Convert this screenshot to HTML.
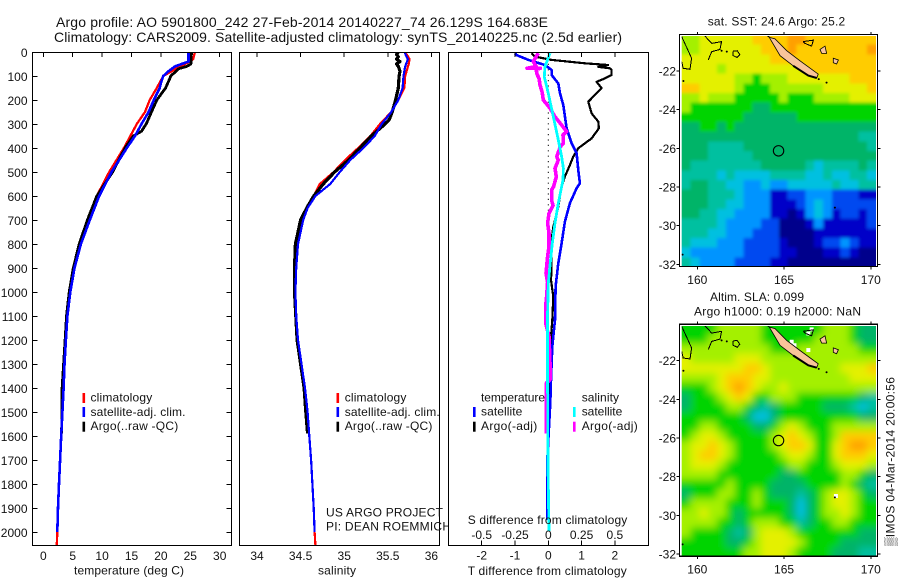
<!DOCTYPE html>
<html lang="en">
<head>
<meta charset="utf-8">
<title>Argo profile 5901800_242</title>
<style>
html,body{margin:0;padding:0;background:#fff;}
svg{display:block;font-family:"Liberation Sans","DejaVu Sans",sans-serif;font-size:12px;fill:#000;}
text{fill:#111;}
.t14{font-size:14px;}
</style>
</head>
<body>
<svg id="chart" xmlns="http://www.w3.org/2000/svg" width="900" height="580" viewBox="0 0 900 580">
  <defs>
    <clipPath id="clip-temp"><rect x="32.5" y="52.5" width="199" height="493"/></clipPath>
    <clipPath id="clip-sal"><rect x="239.5" y="52.5" width="200" height="493"/></clipPath>
    <clipPath id="clip-diff"><rect x="448.5" y="52.5" width="200" height="493"/></clipPath>
    <clipPath id="clip-map1"><rect x="681.7" y="36" width="194.3" height="230"/></clipPath>
    <clipPath id="clip-map2"><rect x="681.7" y="326" width="194.3" height="230"/></clipPath>
    <filter id="blur-sla" x="-10%" y="-10%" width="120%" height="120%"><feGaussianBlur stdDeviation="4"/></filter>
    <filter id="blur-sst" x="-10%" y="-10%" width="120%" height="120%"><feGaussianBlur stdDeviation="1.6"/></filter>
  </defs>
  <rect x="0" y="0" width="900" height="580" fill="#fff"/>

  <text class="t14" x="56" y="27" textLength="492" lengthAdjust="spacing">Argo profile: AO 5901800_242 27-Feb-2014 20140227_74 26.129S 164.683E</text>
  <text class="t14" x="54" y="42" textLength="568" lengthAdjust="spacing">Climatology: CARS2009. Satellite-adjusted climatology: synTS_20140225.nc (2.5d earlier)</text>

  <g id="temp-panel"></g>
  <g id="sal-panel"></g>

  <text x="326" y="516.7" textLength="117" lengthAdjust="spacing">US ARGO PROJECT</text>
  <text x="326" y="530.7" textLength="125" lengthAdjust="spacing">PI: DEAN ROEMMICH</text>

  <g id="diff-panel"></g>
  <g id="map1"></g>
  <g id="map2"></g>

  <text x="707.7" y="25.7" textLength="137.5" lengthAdjust="spacing">sat. SST: 24.6 Argo: 25.2</text>
  <text x="710" y="301" textLength="94" lengthAdjust="spacing">Altim. SLA: 0.099</text>
  <text x="694" y="315.7" textLength="167" lengthAdjust="spacing">Argo h1000: 0.19 h2000: NaN</text>
  <text transform="translate(894.5,546) rotate(-90)" textLength="169" lengthAdjust="spacing">▒IMOS 04-Mar-2014 20:00:56</text>
</svg>
<script>
// ---------- profile data (depth in dbar) ----------
const depthTicks = [0,100,200,300,400,500,600,700,800,900,1000,1100,1200,1300,1400,1500,1600,1700,1800,1900,2000];
const tempTicks = [0,5,10,15,20,25,30];
const salTicks = [34,34.5,35,35.5,36];
const salTickLabels = ['34','34.5','35','35.5','36'];
const diffTTicks = [-2,-1,0,1,2];
const diffTTickLabels = ['-2','-1','0','1','2'];
const diffSTicks = [-0.5,-0.25,0,0.25,0.5];
const diffSTickLabels = ['-0.5','-0.25','0','0.25','0.5'];

const tempClimDepth = [0,30,40,60,100,150,200,250,300,400,500,600,700,800,900,1000,1100,1200,1300,1400,1500,1600,1700,1800,1900,2000,2054];
const tempClim = [25.8,25.5,24.95,23.3,20.4,19.3,18.1,17.3,15.9,13.7,11.2,9.1,7.6,6.2,5.2,4.5,4.0,3.8,3.5,3.4,3.2,3.07,2.84,2.67,2.5,2.38,2.3];
const tempArgoDepth = [0,50,60,70,100,150,200,250,300,330,350,400,500,600,700,800,900,1000,1100,1200,1300,1400,1500,1590];
const tempArgo = [25.2,25.1,24.4,23,21.7,20.8,19.3,18.4,17.5,16.7,15.3,13.9,11.8,9.1,7.5,6.1,5.1,4.4,3.95,3.7,3.45,3.2,3.2,3.1];
const tempSatDepth = [0,40,50,60,80,100,130,150,200,250,300,350,400,500,600,700,800,900,1000,1100,1200,1300,1400,1500,1600,1700,1800,1900,2000];
const tempSat = [24.7,24.7,23.5,22.4,21.3,20.4,20,19.8,18.8,17.9,16.7,15.6,14.2,11.6,9.5,7.9,6.4,5.3,4.6,4.1,3.85,3.6,3.45,3.25,3.05,2.85,2.67,2.5,2.38];

const salClimDepth = [0,30,50,100,150,200,250,300,350,400,450,500,550,600,650,700,750,800,900,1000,1100,1200,1300,1400,1500,1600,1700,1800,1900,2000,2054];
const salClim = [35.70,35.75,35.74,35.70,35.69,35.62,35.54,35.41,35.30,35.16,35.01,34.88,34.72,34.65,34.57,34.51,34.47,34.45,34.43,34.43,34.45,34.47,34.51,34.55,34.57,34.60,34.62,34.635,34.65,34.66,34.67];
const salArgoDepth = [0,10,20,30,40,50,60,80,100,150,200,250,280,300,350,400,450,500,550,600,650,700,750,800,900,1000,1100,1200,1300,1400,1500,1590];
const salArgo = [35.62,35.60,35.62,35.60,35.64,35.60,35.62,35.64,35.63,35.62,35.59,35.55,35.52,35.47,35.31,35.18,35.05,34.89,34.76,34.65,34.57,34.5,34.47,34.44,34.43,34.43,34.445,34.46,34.5,34.54,34.56,34.58];
const salSatDepth = [0,30,60,100,150,200,250,300,350,400,450,500,550,600,650,700,750,800,900,1000,1100,1200,1300,1400,1500,1600,1700,1800,1900,2000];
const salSat = [35.69,35.73,35.70,35.68,35.67,35.62,35.54,35.43,35.35,35.22,35.07,34.95,34.84,34.67,34.58,34.53,34.50,34.47,34.45,34.44,34.45,34.47,34.51,34.55,34.58,34.6,34.62,34.635,34.65,34.66];

const diffTArgoDepth = [5,19,33,47,54,62,68,75,96,110,124,151,207,256,290,318,360,401,436,471,519,561,644,728,783,894,950,1019,1116,1186,1227,1366,1520];
const diffTArgo = [-0.5,-0.4,0.1,1.1,1.8,1.5,1.85,1.9,1.9,1.7,1.45,1.6,1.2,1.3,1.5,1.52,1.3,0.9,0.75,0.65,0.5,0.4,0.3,0.15,0.1,0.1,0.08,0.15,0.12,0.08,0.05,0.05,0.05];
const diffTSatDepth = [5,13,33,54,75,96,131,172,221,318,380,422,492,547,568,630,707,797,880,977,1116,1227,1366,1460,1700,1950];
const diffTSat = [-1.0,-0.95,-0.6,-0.1,0.1,0.1,0.3,0.35,0.45,0.55,0.7,0.85,0.9,0.95,0.85,0.65,0.5,0.4,0.3,0.22,0.2,0.12,0.08,0.06,-0.03,-0.03];
const diffSSatDepth = [5,61,103,172,269,366,436,485,533,630,713,797,894,964,1089,1366,1700,1995];
const diffSSat = [0.0125,-0.025,-0.03,0,0.0375,0.075,0.1,0.113,0.11,0.075,0.05,0.03,0.012,0,-0.005,-0.005,-0.003,0.005];
const diffSArgoDepth = [5,40,60,68,68,72,89,110,137,170,200,234,270,304,332,345,380,395,436,450,485,520,561,575,617,640,672,713,755,811,852,922,960,1019,1060,1130,1186,1297,1366,1380,1590];
const diffSArgo = [-0.075,-0.113,-0.09,-0.16,-0.06,-0.09,-0.087,-0.07,-0.0625,-0.045,-0.0375,0.0125,0.05,0.1,0.138,0.11,0.113,0.09,0.063,0.075,0.05,0.06,0.04,0.025,0.025,0.035,0.005,-0.005,0.005,0.005,-0.005,-0.0175,-0.005,-0.0125,-0.02,-0.02,0.005,0.0125,0.0125,-0.015,-0.015];

// ---------- map data: colour level per 0.5 degree cell, north to south ----------
const sstLevels = [
[8,8,9,9,9,9,9,9,10,10,10,10,11,11,10,10,10,10,10,10,10,10],
[8,8,9,9,9,9,9,9,9,10,10,10,11,10,10,10,10,10,10,10,10,11],
[9,9,9,9,9,9,9,9,9,9,10,10,10,10,10,10,10,10,10,10,10,10],
[9,9,9,9,8,9,9,9,9,9,9,9,9,9,10,10,10,10,10,10,10,10],
[9,9,9,9,9,9,8,8,7,8,8,8,9,9,9,9,9,9,9,10,10,10],
[10,10,9,9,9,9,8,7,7,7,8,8,8,8,8,8,9,9,9,9,9,10],
[8,8,9,8,8,8,7,7,7,7,7,8,7,7,7,8,8,8,8,9,9,9],
[8,7,7,7,7,7,7,7,6,6,7,7,7,7,7,7,7,7,7,7,7,7],
[7,7,7,7,7,7,7,6,6,6,6,6,6,7,7,7,7,7,7,7,7,7],
[6,6,7,7,6,7,6,6,6,6,6,6,6,6,6,6,6,6,6,6,6,6],
[6,6,6,6,6,6,6,6,6,6,6,6,6,6,6,6,6,6,6,6,5,5],
[6,6,6,5,5,5,5,6,6,6,6,6,6,6,6,6,6,6,6,6,6,5],
[6,6,6,5,5,5,5,5,6,6,6,6,6,6,6,6,6,6,6,6,6,6],
[6,5,5,5,5,5,5,5,5,6,6,6,6,6,5,4,5,5,5,5,6,5],
[5,5,5,5,4,5,4,4,4,4,5,5,5,5,4,4,5,4,4,5,5,4],
[5,6,6,5,5,4,4,3,3,4,3,3,4,4,4,4,4,5,4,4,5,5],
[6,6,6,5,5,5,4,3,3,3,1,1,2,2,3,3,3,2,2,2,1,1],
[6,6,6,5,5,4,4,3,3,3,1,1,1,2,3,4,3,2,2,2,2,2],
[6,6,5,5,4,4,3,3,3,3,1,1,0,1,3,4,3,1,2,2,1,2],
[5,5,5,5,4,3,3,3,3,2,2,0,0,0,1,3,1,1,1,1,1,2],
[5,5,5,4,4,3,3,3,2,2,2,0,0,0,0,1,1,1,1,1,1,1],
[5,4,4,4,3,3,3,2,2,2,2,1,0,0,0,1,2,2,3,2,1,1],
[4,3,3,3,3,3,3,2,2,2,2,1,1,0,0,0,1,1,2,1,0,0],
[5,4,3,3,3,3,2,2,2,2,1,1,0,0,0,0,0,0,0,0,0,0]
];
const slaLevels = [
[7,7,7,7,8,8,8,8,8,7,7,7,7,7,7,7,8,8,8,7,6,6],
[7,7,7,8,8,8,8,8,8,7,7,7,7,7,7,8,8,8,8,7,6,6],
[8,8,8,8,8,8,8,8,8,8,7,7,7,8,8,8,8,8,8,8,7,7],
[9,8,8,8,8,8,9,9,9,8,8,8,8,8,8,8,8,8,8,8,8,8],
[9,9,9,9,9,9,9,10,10,9,8,8,8,8,8,8,8,8,9,9,9,10],
[8,8,8,8,9,10,10,10,9,9,8,8,8,8,8,8,8,8,8,9,9,9],
[7,7,7,8,9,10,11,10,9,8,8,9,8,8,8,8,8,8,8,8,8,8],
[6,7,7,7,8,9,10,9,7,7,8,8,8,7,7,7,7,7,7,7,6,5],
[6,7,7,7,7,8,8,7,6,5,6,7,7,7,7,7,6,6,6,5,4,5],
[7,7,7,7,7,7,7,6,4,4,6,7,7,7,7,7,7,7,7,7,6,6],
[7,7,8,8,7,7,7,7,6,6,7,8,9,8,7,7,7,8,8,8,8,8],
[7,8,9,9,8,7,7,7,7,7,8,9,10,9,8,7,7,8,10,10,10,10],
[8,9,9,10,9,8,7,7,7,7,8,9,10,10,9,7,7,9,10,11,11,10],
[8,9,10,10,9,8,7,7,7,7,7,8,9,9,8,7,7,9,10,10,10,9],
[8,9,9,9,8,7,7,7,7,7,7,7,8,8,7,7,7,8,9,9,9,8],
[8,8,8,8,7,7,7,7,7,7,7,6,6,7,7,7,7,7,8,8,7,6],
[7,7,7,7,7,8,7,7,7,7,6,6,6,6,7,7,7,7,8,7,6,5],
[6,7,7,7,8,8,7,7,8,7,6,6,6,5,6,7,8,9,9,8,7,6],
[7,8,8,8,8,7,7,7,8,7,7,7,6,4,6,7,8,9,9,8,7,7],
[8,8,9,8,8,7,6,7,7,7,7,7,6,4,6,7,8,8,9,8,7,7],
[8,8,8,8,7,7,6,7,8,8,8,7,7,5,6,7,7,8,8,7,7,7],
[8,7,7,7,7,6,5,6,8,9,9,9,8,7,7,7,7,7,7,7,6,6],
[7,7,7,7,7,6,6,7,8,9,9,9,9,8,7,7,7,7,6,6,6,6],
[7,7,7,7,7,7,7,8,8,9,9,9,8,7,7,7,7,6,6,6,5,5]
];
const levelColours = ['#00008c','#0000c8','#0048f0','#0094ff','#00c0e0','#00c0a0','#00b468','#00d400','#a4f000','#e4f000','#ffcc00','#ffa000'];
const mapLonTicks = [160,165,170];
const mapLatTicks = [-22,-24,-26,-28,-30,-32];
const floatLon = 164.683;
const floatLat = -26.129;

// coast outlines as [lon, lat]
const newCaledonia = [[164.15,-20.26],[164.48,-20.34],[165.15,-20.95],[165.92,-21.47],[166.97,-22.16],[166.88,-22.36],[166.40,-22.24],[165.53,-21.73],[164.77,-21.21]];
const newCaledoniaSouthCoast = [[166.88,-22.36],[166.40,-22.24],[165.53,-21.73]];
const loyaltyIslandA = [[167.07,-20.88],[167.36,-20.71],[167.45,-21.09],[167.17,-21.09]];
const loyaltyIslandB = [[167.84,-21.34],[168.13,-21.43],[168.03,-21.64],[167.84,-21.57]];
const coastA = [[159.10,-20.22],[159.67,-21.34],[159.58,-21.91],[159.19,-21.86],[159.10,-21.52]];
const coastB = [[160.44,-20.19],[160.83,-20.57],[161.40,-20.48],[161.31,-20.88],[160.83,-21.0],[160.63,-21.43]];
const coastC = [[162.05,-20.98],[162.3,-20.95],[162.45,-21.15],[162.3,-21.3],[162.05,-21.2],[162.05,-20.98]];
const coastD = [[166.11,-20.48],[166.69,-20.40],[166.59,-20.71],[166.21,-20.57],[166.11,-20.48]];
const coastDots = [[167.45,-22.60],[167.93,-29.07],[159.2,-22.52],[159.15,-31.5],[161.4,-20.95],[161.7,-21.0],[164.1,-20.2],[167.0,-22.42]];
const slaGaps = [[166.59,-20.38],[166.4,-20.59],[167.99,-29.0],[165.44,-21.02],[165.6,-21.2],[166.4,-21.45]];

// ---------- scales ----------
const yDepth = d => 52 + 0.24 * d;
const xTemp = t => 43.3 + 5.88 * t;
const xSal = s => 257 + 87.2 * (s - 34);
const xDiffT = t => 548.3 + 33.3 * t;
const xDiffS = s => 548.3 + 133.2 * s;
const xLon = lon => 697.3 + 17.35 * (lon - 160);
const yLat = (lat, y22) => y22 + 19.33 * (-22 - lat);

const NS = 'http://www.w3.org/2000/svg';
function make(parent, tag, attrs, text) {
  const el = document.createElementNS(NS, tag);
  for (const k in attrs) el.setAttribute(k, attrs[k]);
  if (text !== undefined) el.textContent = text;
  parent.appendChild(el);
  return el;
}

function frame(parent, x, y, w, h, name) {
  const bg = make(parent, 'rect', {x: x, y: y, width: w, height: h, fill: 'none', stroke: '#000', 'stroke-width': 1.2, 'shape-rendering': 'crispEdges'});
  
  
}

function tick(parent, x1, y1, x2, y2, name) {
  const t = make(parent, 'line', {x1: x1, y1: y1, x2: x2, y2: y2, stroke: '#000', 'stroke-width': 1, 'shape-rendering': 'crispEdges'});
  
  
}

function label(parent, x, y, str, anchor, name, width) {
  const attrs = {x: x, y: y, 'text-anchor': anchor};
  if (width) { attrs.textLength = width; attrs.lengthAdjust = 'spacing'; }
  const t = make(parent, 'text', attrs, str);
  
  
  return t;
}

function series(parent, xs, depths, xScale, colour, width, name) {
  const pts = xs.map((v, i) => xScale(v).toFixed(1) + ',' + yDepth(depths[i]).toFixed(1)).join(' ');
  const p = make(parent, 'polyline', {points: pts, fill: 'none', stroke: colour, 'stroke-width': width, 'stroke-linejoin': 'round', 'shape-rendering': 'crispEdges'});
  
  
}

function legendBar(parent, x, y, colour, name) {
  const r = make(parent, 'rect', {x: x, y: y, width: 2.6, height: 10, fill: colour});
  
  
}

// ---------- temperature panel ----------
const gT = document.getElementById('temp-panel');
const gTLines = make(gT, 'g', {'clip-path': 'url(#clip-temp)'});
series(gTLines, tempClim, tempClimDepth, xTemp, '#ff0000', 2.3, 'temperature-climatology-line');
series(gTLines, tempArgo, tempArgoDepth, xTemp, '#000000', 2.8, 'temperature-argo-line');
series(gTLines, tempSat, tempSatDepth, xTemp, '#0000ff', 2.6, 'temperature-satellite-line');
frame(gT, 32.5, 52.5, 199, 493, 'temperature-plot-frame');
depthTicks.forEach(d => {
  const y = Math.round(yDepth(d)) + 0.5;
  tick(gT, 32.5, y, 37.5, y, 'depth-tick-left');
  tick(gT, 226.5, y, 231.5, y, 'depth-tick-right');
  label(gT, 27.5, y + 4.5, String(d), 'end', 'depth-tick-label');
});
tempTicks.forEach(t => {
  const x = xTemp(t);
  tick(gT, x, 52.5, x, 57, 'temperature-tick');
  label(gT, x, 560, String(t), 'middle', 'temperature-tick-label');
});
label(gT, 74, 574.3, 'temperature (deg C)', 'start', 'temperature-axis-title', 110);
legendBar(gT, 82.5, 393, '#ff0000', 'legend-swatch-climatology');
legendBar(gT, 82.5, 407, '#0000ff', 'legend-swatch-satellite');
legendBar(gT, 82.5, 421.7, '#000000', 'legend-swatch-argo');
label(gT, 90.5, 401.7, 'climatology', 'start', 'legend-label-climatology', 61.7);
label(gT, 90.5, 416, 'satellite-adj. clim.', 'start', 'legend-label-satellite', 95);
label(gT, 90.5, 430, 'Argo(..raw -QC)', 'start', 'legend-label-argo', 87.7);

// ---------- salinity panel ----------
const gS = document.getElementById('sal-panel');
const gSLines = make(gS, 'g', {'clip-path': 'url(#clip-sal)'});
series(gSLines, salClim, salClimDepth, xSal, '#ff0000', 2.2, 'salinity-climatology-line');
series(gSLines, salArgo, salArgoDepth, xSal, '#000000', 3.2, 'salinity-argo-line');
series(gSLines, salSat, salSatDepth, xSal, '#0000ff', 2.2, 'salinity-satellite-line');
frame(gS, 239.5, 52.5, 200, 493, 'salinity-plot-frame');
salTicks.forEach((s, i) => {
  const x = xSal(s);
  tick(gS, x, 52.5, x, 57, 'salinity-tick');
  label(gS, x, 560, salTickLabels[i], 'middle', 'salinity-tick-label');
});
label(gS, 318, 574.3, 'salinity', 'start', 'salinity-axis-title', 38);
legendBar(gS, 336.5, 393, '#ff0000', 'legend-swatch-climatology');
legendBar(gS, 336.5, 407, '#0000ff', 'legend-swatch-satellite');
legendBar(gS, 336.5, 421.7, '#000000', 'legend-swatch-argo');
label(gS, 344.7, 401.7, 'climatology', 'start', 'legend-label-climatology', 61.7);
label(gS, 344.7, 416, 'satellite-adj. clim.', 'start', 'legend-label-satellite', 95);
label(gS, 344.7, 430, 'Argo(..raw -QC)', 'start', 'legend-label-argo', 87.7);

// ---------- difference panel ----------
const gD = document.getElementById('diff-panel');
const diffBg = make(gD, 'rect', {x: 448.5, y: 52.5, width: 200, height: 493, fill: '#fff'});


const gDLines = make(gD, 'g', {'clip-path': 'url(#clip-diff)'});
const zeroLine = make(gDLines, 'line', {x1: xDiffT(0), y1: 53, x2: xDiffT(0), y2: 300, stroke: '#000', 'stroke-width': 1, 'stroke-dasharray': '1.2 4.2'});


series(gDLines, diffTArgo, diffTArgoDepth, xDiffT, '#000000', 2.2, 'temperature-difference-argo-line');
series(gDLines, diffTSat, diffTSatDepth, xDiffT, '#0000ff', 2.6, 'temperature-difference-satellite-line');
series(gDLines, diffSArgo, diffSArgoDepth, xDiffS, '#ff00ff', 3.6, 'salinity-difference-argo-line');
series(gDLines, diffSSat, diffSSatDepth, xDiffS, '#00ffff', 2.8, 'salinity-difference-satellite-line');
frame(gD, 448.5, 52.5, 200, 493, 'difference-plot-frame');
diffTTicks.forEach((t, i) => {
  const x = xDiffT(t);
  tick(gD, x, 52.5, x, 57, 'difference-tick-top');
  tick(gD, x, 540.5, x, 545.5, 'difference-tick-bottom');
  label(gD, x, 559.3, diffTTickLabels[i], 'middle', 'temperature-difference-tick-label');
});
diffSTicks.forEach((s, i) => {
  label(gD, xDiffS(s), 539, diffSTickLabels[i], 'middle', 'salinity-difference-tick-label');
});
label(gD, 467.7, 524, 'S difference from climatology', 'start', 'salinity-difference-axis-title', 159.6);
label(gD, 467.7, 575, 'T difference from climatology', 'start', 'temperature-difference-axis-title', 159);
label(gD, 481, 401.7, 'temperature', 'start', 'legend-heading-temperature', 64);
label(gD, 581.7, 401.7, 'salinity', 'start', 'legend-heading-salinity', 37.3);
label(gD, 481, 415.7, 'satellite', 'start', 'legend-label-temperature-satellite', 41.3);
label(gD, 481, 430, 'Argo(-adj)', 'start', 'legend-label-temperature-argo', 56.3);
label(gD, 581.7, 415.7, 'satellite', 'start', 'legend-label-salinity-satellite', 40.6);
label(gD, 581.7, 430, 'Argo(-adj)', 'start', 'legend-label-salinity-argo', 56);
legendBar(gD, 473, 407, '#0000ff', 'legend-swatch-temperature-satellite');
legendBar(gD, 473, 421.7, '#000000', 'legend-swatch-temperature-argo');
legendBar(gD, 573, 407, '#00ffff', 'legend-swatch-salinity-satellite');
legendBar(gD, 573, 421.7, '#ff00ff', 'legend-swatch-salinity-argo');

// ---------- maps ----------
function ptsOf(arr, y22) {
  return arr.map(p => xLon(p[0]).toFixed(1) + ',' + yLat(p[1], y22).toFixed(1)).join(' ');
}

function drawMap(gId, levels, y22, clipId, blurId, mapName) {
  const g = document.getElementById(gId);
  const top = y22 - 36;
  const clip = make(g, 'g', {'clip-path': 'url(#' + clipId + ')'});
  const cellsG = make(clip, 'g', {filter: 'url(#' + blurId + ')'});
  const lonStep = 0.509, latStep = 0.5;
  levels.forEach((row, r) => {
    row.forEach((v, c) => {
      const lon = 159.1 + c * lonStep;
      const lat = -20.14 - r * latStep;
      let x0 = xLon(lon), x1 = xLon(lon + lonStep) + 0.5;
      let y0 = yLat(lat, y22), y1 = yLat(lat - latStep, y22) + 0.5;
      if (c === 0) x0 -= 14;
      if (c === row.length - 1) x1 += 14;
      if (r === 0) y0 -= 14;
      if (r === levels.length - 1) y1 += 14;
      const cell = make(cellsG, 'rect', {x: x0, y: y0, width: x1 - x0, height: y1 - y0, fill: levelColours[v], 'shape-rendering': 'crispEdges'});
      
      
    });
  });
  if (gId === 'map2') {
    slaGaps.forEach(p => {
      const gap = make(clip, 'rect', {x: xLon(p[0]) - 2, y: yLat(p[1], y22) - 2, width: 4, height: 4, fill: '#fff'});
      
      
    });
  }
  [newCaledonia, loyaltyIslandA, loyaltyIslandB].forEach(arr => {
    const land = make(clip, 'polygon', {points: ptsOf(arr, y22), fill: '#f9c49a', stroke: '#000', 'stroke-width': 0.8});
    
    
  });
  const south = make(clip, 'polyline', {points: ptsOf(newCaledoniaSouthCoast, y22), fill: 'none', stroke: '#000', 'stroke-width': 2});
  
  
  [coastA, coastB, coastC, coastD].forEach(arr => {
    const coast = make(clip, 'polyline', {points: ptsOf(arr, y22), fill: 'none', stroke: '#000', 'stroke-width': 1, 'shape-rendering': 'crispEdges'});
    
    
  });
  coastDots.forEach(p => {
    const dot = make(clip, 'circle', {cx: xLon(p[0]), cy: yLat(p[1], y22), r: 1, fill: '#000'});
    
    
  });
  const fl = make(g, 'circle', {cx: xLon(floatLon), cy: yLat(floatLat, y22), r: 5.2, fill: 'none', stroke: '#000', 'stroke-width': 1.1});
  
  

  frame(g, 679.5, top - 0.5, 198, 232, mapName + '-frame');
  const bottom = top + 231.5;
  mapLonTicks.forEach(lon => {
    const x = xLon(lon);
    tick(g, x, top - 3, x, top, mapName + '-longitude-tick-top');
    tick(g, x, bottom, x, bottom + 3, mapName + '-longitude-tick-bottom');
    label(g, x, top + 249, String(lon), 'middle', mapName + '-longitude-label');
  });
  mapLatTicks.forEach(lat => {
    const y = yLat(lat, y22);
    tick(g, 676.5, y, 679.5, y, mapName + '-latitude-tick-left');
    tick(g, 877.5, y, 880.5, y, mapName + '-latitude-tick-right');
    label(g, 676, y + 4.5, String(lat), 'end', mapName + '-latitude-label');
  });
}
drawMap('map1', sstLevels, 71, 'clip-map1', 'blur-sst', 'sst-map');
drawMap('map2', slaLevels, 360.7, 'clip-map2', 'blur-sla', 'sla-map');
</script>
</body>
</html>
